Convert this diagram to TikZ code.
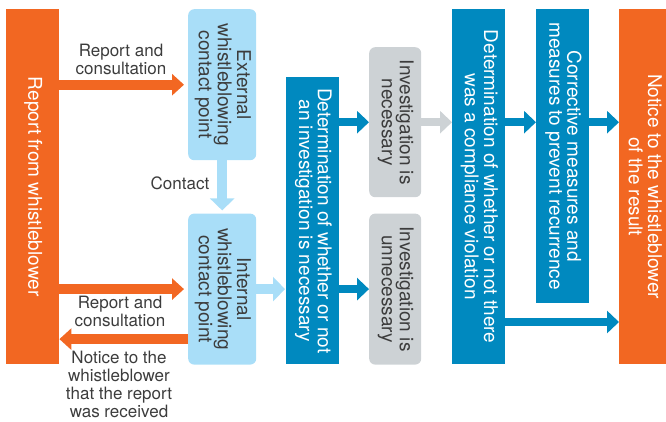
\documentclass[tikz,border=0pt]{standalone}
\usepackage{fontspec}
\setmainfont{TeX Gyre Heros}
\usepackage{graphicx}
\usetikzlibrary{positioning, arrows.meta}

\definecolor{wborange}{HTML}{F26722}
\definecolor{wbblue}{HTML}{0089BF}
\definecolor{wblight}{HTML}{A9DEF8}
\definecolor{wbgray}{HTML}{CDD2D5}
\definecolor{wbtext}{HTML}{3C3C3C}

% vertical box text, read from top to bottom
\newcommand{\vtext}[1]{\rotatebox{-90}{\begin{tabular}{@{}c@{}}#1\end{tabular}}}

\begin{document}
\begin{tikzpicture}[
  x=1pt, y=-1pt,
  wbbox/.style={rectangle, inner sep=0pt, anchor=north west,
                font=\fontsize{19}{18}\selectfont},
  sidebox/.style={wbbox, fill=wborange, text=white},
  stepbox/.style={wbbox, fill=wbblue, text=white},
  pointbox/.style={wbbox, fill=wblight, text=wbtext, rounded corners=6pt},
  casebox/.style={wbbox, fill=wbgray, text=wbtext, rounded corners=6pt},
  flowlabel/.style={align=center, text=wbtext, font=\fontsize{17}{18}\selectfont},
  orangearrow/.style={-{Triangle[width=21pt, length=12pt]}, line width=10pt, draw=wborange},
  lightarrow/.style={-{Triangle[width=24pt, length=12pt]}, line width=10pt, draw=wblight},
  bluearrow/.style={-{Triangle[width=22pt, length=12pt]}, line width=8pt, draw=wbblue},
  grayarrow/.style={-{Triangle[width=22pt, length=12pt]}, line width=8pt, draw=wbgray}
]
\useasboundingbox (0,0) rectangle (666,421);

% -------- whistleblower and contact points --------
\node[sidebox, minimum width=53pt, minimum height=355pt] (whistle) at (6,9)
  {\vtext{Report from whistleblower}};
\node[pointbox, minimum width=68pt, minimum height=151pt] (ext) at (188,9)
  {\vtext{External\\whistleblowing\\contact point}};
\node[pointbox, minimum width=68pt, minimum height=151pt, below=53pt of ext] (int)
  {\vtext{Internal\\whistleblowing\\contact point}};

% -------- investigation --------
\node[stepbox, minimum width=53pt, minimum height=287pt] (needed) at (286,77)
  {\vtext{Determination of whether or not\\an investigation is necessary}};
\node[casebox, minimum width=52pt, minimum height=150pt] (yes) at (369,47)
  {\vtext{Investigation is\\necessary}};
\node[casebox, minimum width=52pt, minimum height=151pt, below=16pt of yes] (no)
  {\vtext{Investigation is\\unnecessary}};

% -------- result --------
\node[stepbox, minimum width=53pt, minimum height=355pt] (violation) at (452,9)
  {\vtext{Determination of whether or not there\\was a compliance violation}};
\node[stepbox, minimum width=53pt, minimum height=294pt] (measures) at (536,9)
  {\vtext{Corrective measures and\\measures to prevent recurrence}};
\node[sidebox, minimum width=47pt, minimum height=355pt] (notice) at (619,9)
  {\vtext{Notice to the whistleblower\\of the result}};

% labels
\node[flowlabel] (lblreport) at (121,59) {Report and\\consultation};
\node[flowlabel] (lblcontact) at (180,183) {Contact};
\node[flowlabel] (lblreport2) at (120,311) {Report and\\consultation};
\node[flowlabel] (lblreceived) at (119,384) {Notice to the\\whistleblower\\that the report\\was received};

\coordinate (lowrow) at (0,322);

% arrows between whistleblower and contact points
\draw[orangearrow, shorten >=4pt] (whistle.east |- ext.west) -- (ext.west);
\draw[orangearrow, shorten >=4pt] (whistle.east |- int.west) -- (int.west);
\draw[orangearrow] ([yshift=-50pt]int.west) -- ([yshift=-50pt]int.west -| whistle.east);
\draw[lightarrow, shorten >=3pt] (ext.south) -- (int.north);
\draw[lightarrow, shorten >=1pt] (int.east) -- (int.east -| needed.west);

% arrows of the investigation
\draw[bluearrow] (needed.east |- yes.west) -- (yes.west);
\draw[bluearrow] (needed.east |- no.west) -- (no.west);
\draw[grayarrow] (yes.east) -- (yes.east -| violation.west);
\draw[bluearrow] (violation.east |- yes.east) -- (measures.west |- yes.east);
\draw[bluearrow] (measures.east |- yes.east) -- (notice.west |- yes.east);
\draw[bluearrow] (violation.east |- lowrow) -- (notice.west |- lowrow);

\end{tikzpicture}
\end{document}
